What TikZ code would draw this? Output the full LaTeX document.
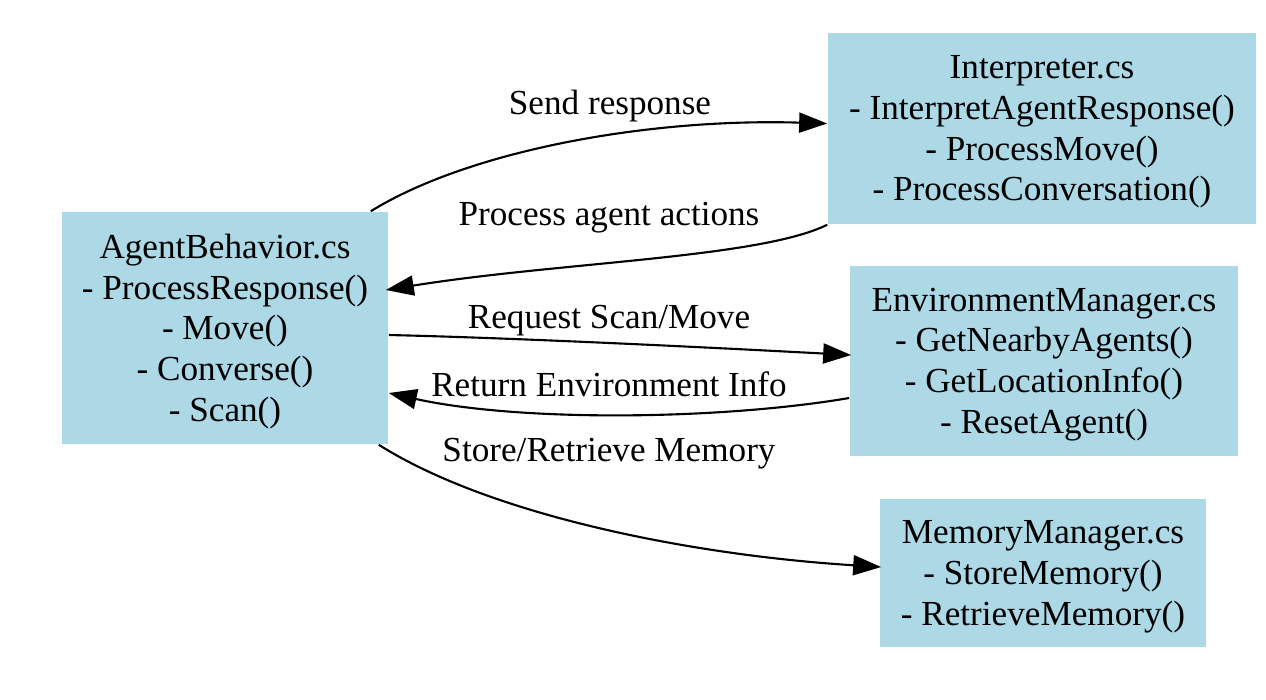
\documentclass[tikz,border=0pt]{standalone}
\usepackage{fontspec}
\setmainfont{Liberation Serif}
\usetikzlibrary{arrows.meta,calc}
\definecolor{boxblue}{HTML}{ADD8E6}
\begin{document}
\begin{tikzpicture}[x=0.01cm,y=-0.01cm,
  cls/.style={fill=boxblue,draw=none,inner sep=0pt},
  txt/.style={align=center,inner sep=0pt,font=\fontsize{10}{11.6}\selectfont},
  lbl/.style={font=\fontsize{10}{11.6}\selectfont,inner sep=0pt},
  conn/.style={line width=0.6pt,-{Triangle[length=0.28cm,width=0.2cm]}}]
\useasboundingbox (0,0) rectangle (1266,699);
\node[cls,minimum width=3.26cm,minimum height=2.32cm] (ab) at (225,328) {};
\node[txt] (abt) at ($(ab.center)+(0,3.5)$)
  {AgentBehavior.cs\\- ProcessResponse()\\- Move()\\- Converse()\\- Scan()};
\node[cls,minimum width=4.28cm,minimum height=1.91cm] (in) at (1042,128.5) {};
\node[txt] (int) at ($(in.center)+(0,3.5)$)
  {Interpreter.cs\\- InterpretAgentResponse()\\- ProcessMove()\\- ProcessConversation()};
\node[cls,minimum width=3.88cm,minimum height=1.90cm] (em) at (1044,361) {};
\node[txt] (emt) at ($(em.center)+(0,3.5)$)
  {EnvironmentManager.cs\\- GetNearbyAgents()\\- GetLocationInfo()\\- ResetAgent()};
\node[cls,minimum width=3.26cm,minimum height=1.48cm] (mm) at (1043,573) {};
\node[txt] (mmt) at ($(mm.center)+(0,3.5)$)
  {MemoryManager.cs\\- StoreMemory()\\- RetrieveMemory()};

\draw[conn] ($(ab.north east)+(-18,0)$) .. controls (470,150) and (650,118) .. ($(in.west)+(0,-5)$);
\node[lbl] (l1) at (610,106) {Send response};
\draw[conn] (in.south west) .. controls (760,258) and (560,262) .. ($(ab.east)+(-3,-38)$);
\node[lbl] (l2) at (609,218) {Process agent actions};
\draw[conn] ($(ab.east)+(0,7)$) .. controls (520,338) and (720,348) .. ($(em.west)+(2,-6)$);
\node[lbl] (l3) at (609,321) {Request Scan/Move};
\draw[conn] ($(em.west)+(0,37)$) .. controls (720,420) and (520,422) .. ($(ab.east)+(0,65)$);
\node[lbl] (l4) at (609,384) {Return Environment Info};
\draw[conn] ($(ab.south east)+(-10,0)$) .. controls (490,515) and (690,555) .. ($(mm.west)+(2,-6)$);
\node[lbl] (l5) at (609,454) {Store/Retrieve Memory};
\end{tikzpicture}
\end{document}
